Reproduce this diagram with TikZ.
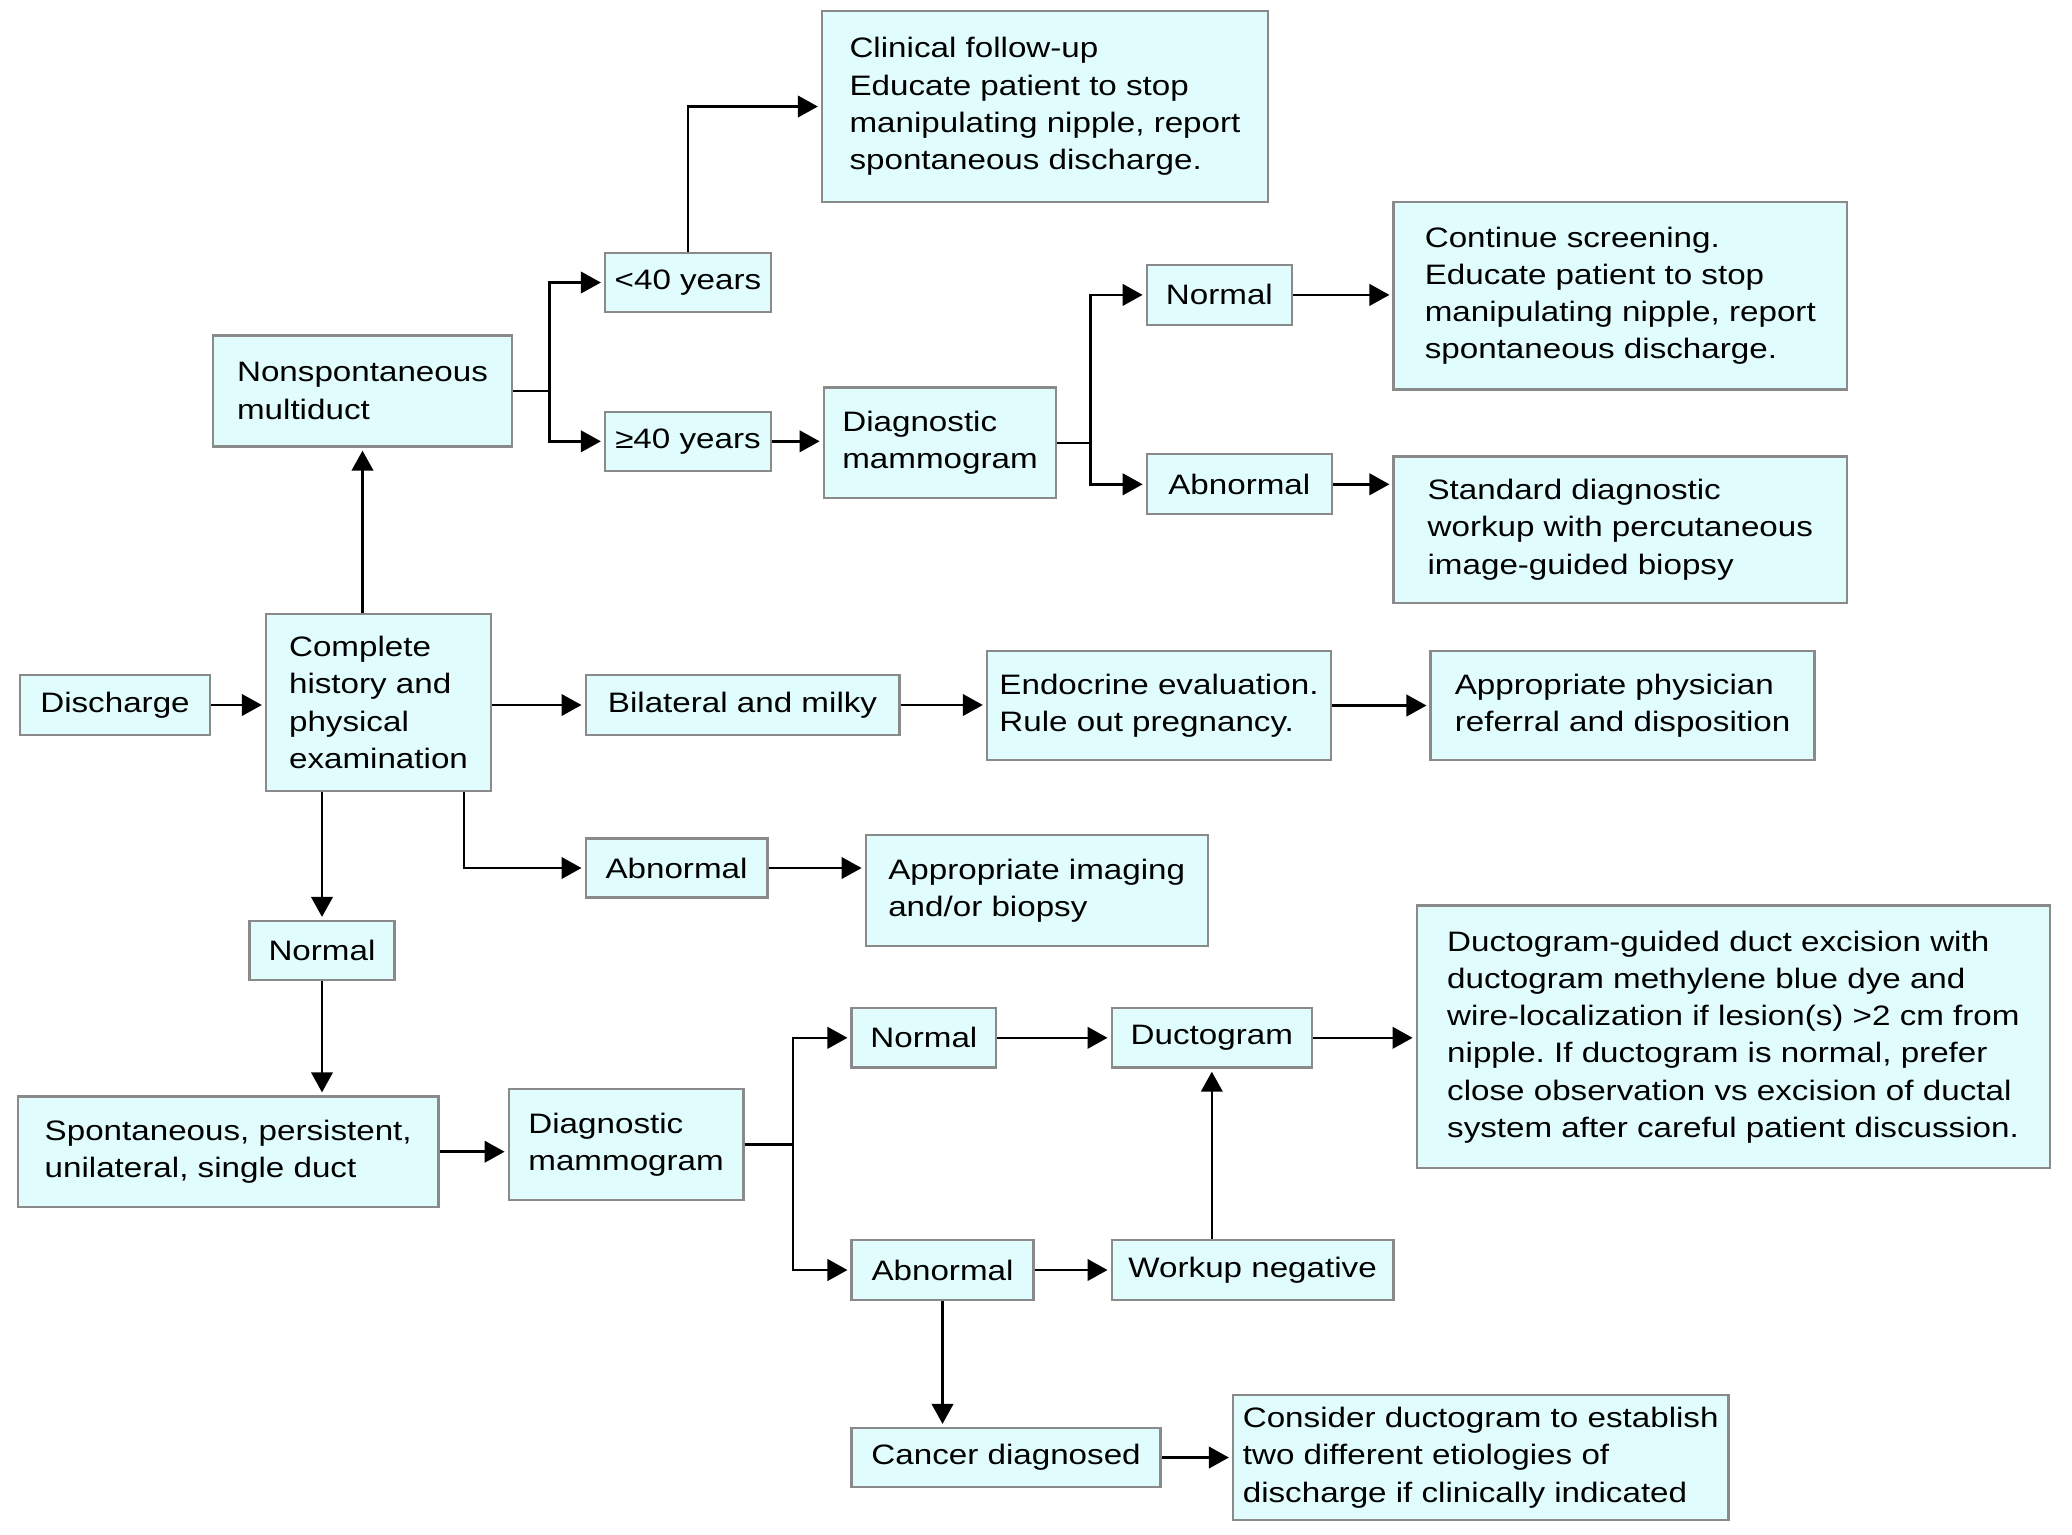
\documentclass[tikz,border=0pt]{standalone}
\usepackage{fontspec}
\setmainfont{Liberation Sans}[FakeStretch=1.18]
\usetikzlibrary{arrows.meta, calc}
\definecolor{boxfill}{HTML}{E0FCFC}
\definecolor{boxedge}{HTML}{8A8A8A}
\tikzset{
  fbox/.style = {draw=boxedge, fill=boxfill, line width=0.65pt, align=left,
                 inner sep=0pt, font=\fontsize{8}{10.6}\selectfont},
  wh/.style 2 args = {minimum width=#1*0.1mm, minimum height=#2*0.1mm},
  flow/.style = {-{Triangle[length=2mm, width=2.15mm]}, line width=0.7pt,
                 shorten >=0.3mm},
  link/.style = {line width=0.7pt},
}
\frenchspacing

\begin{document}
\begin{tikzpicture}[x=0.1mm, y=-0.1mm]
  \useasboundingbox (0,0) rectangle (2072,1534);
  \node[fbox, wh={190}{60}]       (dis)  at (115,705)      {Discharge};
  \node[fbox, wh={225}{177}]      (cmp)  at (378.5,702.5)  {Complete\\history and\\physical\\examination};
  \node[fbox, wh={299}{111}]      (nsp)  at (362.5,391)    {Nonspontaneous\\multiduct};
  \node[fbox, wh={166}{59}]       (lt40) at (688,282.5)    {<40 years};
  \node[fbox, wh={166}{59}]       (ge40) at (688,441.3)    {≥40 years};
  \node[fbox, wh={446}{191}]      (clin) at (1045,106.5)   {Clinical follow-up\\Educate patient to stop\\manipulating nipple, report\\spontaneous discharge.};
  \node[fbox, wh={232.5}{110.5}]  (dmT)  at (940,442.8)    {Diagnostic\\mammogram};
  \node[fbox, wh={145.3}{59.7}]   (nrmT) at (1219.4,294.9) {Normal};
  \node[fbox, wh={185}{60}]       (abnT) at (1239.3,484.3) {Abnormal};
  \node[fbox, wh={453.5}{187.5}]  (cont) at (1620.3,295.7) {Continue screening.\\Educate patient to stop\\manipulating nipple, report\\spontaneous discharge.};
  \node[fbox, wh={453.5}{146.7}]  (std)  at (1620.3,529.7) {Standard diagnostic\\workup with percutaneous\\image-guided biopsy};
  \node[fbox, wh={313.7}{60}]     (bil)  at (742.5,705)    {Bilateral and milky};
  \node[fbox, wh={344}{109}]      (endo) at (1159,705.5)   {Endocrine evaluation.\\Rule out pregnancy.};
  \node[fbox, wh={384}{109}]      (phys) at (1622.6,705.6) {Appropriate physician\\referral and disposition};
  \node[fbox, wh={181.7}{59}]     (abnM) at (676.5,868)    {Abnormal};
  \node[fbox, wh={342}{111}]      (img)  at (1036.7,890.5) {Appropriate imaging\\and/or biopsy};
  \node[fbox, wh={145}{59}]       (nrmL) at (322,950.5)    {Normal};
  \node[fbox, wh={420.4}{110.5}]  (spn)  at (228.2,1151.7) {Spontaneous, persistent,\\unilateral, single duct};
  \node[fbox, wh={234.8}{110.7}]  (dmB)  at (626.1,1144.4) {Diagnostic\\mammogram};
  \node[fbox, wh={144.6}{59.5}]   (nrmB) at (923.9,1037.8) {Normal};
  \node[fbox, wh={200.3}{59.5}]   (dct)  at (1211.8,1037.8) {Ductogram};
  \node[fbox, wh={633.3}{262.7}]  (dgx)  at (1733.4,1036.9) {Ductogram-guided duct excision with\\ductogram methylene blue dye and\\wire-localization if lesion(s) >2 cm from\\nipple. If ductogram is normal, prefer\\close observation vs excision of ductal\\system after careful patient discussion.};
  \node[fbox, wh={181.8}{60}]     (abnB) at (942.5,1270)   {Abnormal};
  \node[fbox, wh={281.9}{60}]     (wkn)  at (1252.6,1270)  {Workup negative};
  \node[fbox, wh={309}{59}]       (cnc)  at (1006.1,1457.5) {Cancer diagnosed};
  \node[fbox, wh={495.4}{125}]    (cons) at (1480.7,1457.5) {Consider ductogram to establish\\two different etiologies of\\discharge if clinically indicated};

  \draw[flow] (dis.east) -- (dis.east -| cmp.west);
  \draw[flow] (nsp.south |- cmp.north) -- (nsp.south);
  \coordinate (nspj) at ([xshift=3.65mm]nsp.east);
  \draw[link] (nsp.east) -- (nspj);
  \draw[flow] (nspj) |- (lt40.west);
  \draw[flow] (nspj) |- (ge40.west);
  \draw[flow] (lt40.north) |- (clin.west);
  \draw[flow] (ge40.east) -- (ge40.east -| dmT.west);
  \coordinate (dmTj) at ([xshift=3.3mm]dmT.east);
  \draw[link] (dmT.east) -- (dmTj);
  \draw[flow] (dmTj) |- (nrmT.west);
  \draw[flow] (dmTj) |- (abnT.west);
  \draw[flow] (nrmT.east) -- (nrmT.east -| cont.west);
  \draw[flow] (abnT.east) -- (abnT.east -| std.west);
  \draw[flow] (cmp.east |- bil.west) -- (bil.west);
  \draw[flow] (bil.east) -- (bil.east -| endo.west);
  \draw[flow] (endo.east) -- (endo.east -| phys.west);
  \draw[flow] ([xshift=-2.8mm]cmp.south east) |- (abnM.west);
  \draw[flow] (abnM.east) -- (abnM.east -| img.west);
  \draw[flow] (nrmL.north |- cmp.south) -- (nrmL.north);
  \draw[flow] (nrmL.south) -- (nrmL.south |- spn.north);
  \draw[flow] (spn.east) -- (spn.east -| dmB.west);
  \coordinate (dmBj) at ([xshift=4.85mm]dmB.east);
  \draw[link] (dmB.east) -- (dmBj);
  \draw[flow] (dmBj) |- (nrmB.west);
  \draw[flow] (dmBj) |- (abnB.west);
  \draw[flow] (nrmB.east) -- (nrmB.east -| dct.west);
  \draw[flow] (dct.east) -- (dct.east -| dgx.west);
  \draw[flow] (abnB.east) -- (abnB.east -| wkn.west);
  \draw[flow] (dct.south |- wkn.north) -- (dct.south);
  \draw[flow] (abnB.south) -- (abnB.south |- cnc.north);
  \draw[flow] (cnc.east) -- (cnc.east -| cons.west);
\end{tikzpicture}
\end{document}
